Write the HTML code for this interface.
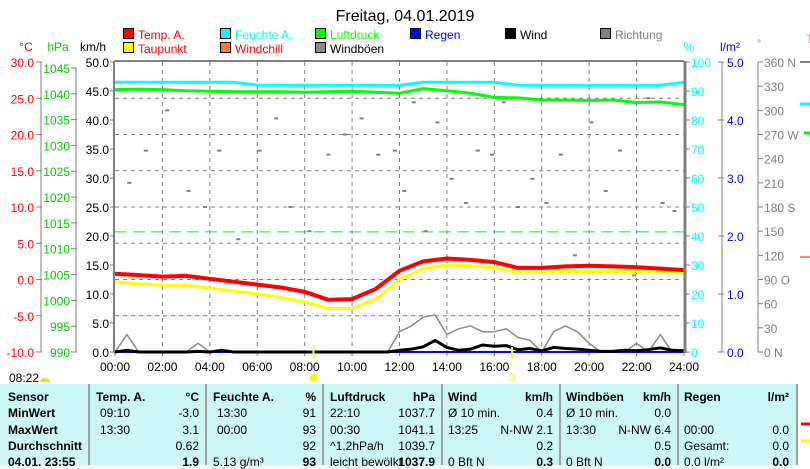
<!DOCTYPE html>
<html><head><meta charset="utf-8">
<style>
body{margin:0;background:#fff;width:810px;height:465px;overflow:hidden;font-family:"Liberation Sans",sans-serif;}
svg{position:absolute;left:0;top:0;}
#tbl{position:absolute;left:0;top:384px;width:796px;height:81px;background:#ccf7f7;font-size:12px;}
.c{position:absolute;white-space:nowrap;}
.b{font-weight:bold;}
.div{position:absolute;top:0;width:2px;height:81px;background:#a0a0a0;}
</style></head><body>
<svg id="chart" width="810" height="465"></svg>
<div id="tbl"></div>
<script>
// ---- data ----
const hours=[0,1,2,3,4,5,6,7,8,9,10,11,12,13,14,15,16,17,18,19,20,21,22,23,24];
const tempA=[0.8,0.6,0.4,0.5,0.1,-0.3,-0.7,-1.1,-1.7,-2.8,-2.7,-1.3,1.2,2.5,2.9,2.7,2.4,1.6,1.6,1.8,1.9,1.8,1.7,1.5,1.3];
const dewPt=[-0.3,-0.6,-0.8,-0.8,-1.2,-1.6,-2.0,-2.5,-3.1,-4.0,-4.0,-2.7,0.0,1.5,2.0,1.9,1.6,1.0,1.0,1.1,1.1,1.1,1.1,1.0,0.9];
const humid=[93,93,93,93,93,93,92,92,92,92,92,92,92,93,93,93,93,92,92,92,92,92,92,92,93];
const press=[1040.8,1040.9,1040.8,1040.6,1040.5,1040.4,1040.4,1040.4,1040.3,1040.4,1040.5,1040.3,1040.1,1041.0,1040.6,1040.1,1039.3,1039.2,1038.8,1038.8,1038.7,1038.8,1038.3,1038.4,1037.9];
const halfHours=[0,0.5,1,1.5,2,2.5,3,3.5,4,4.5,5,5.5,6,6.5,7,7.5,8,8.5,9,9.5,10,10.5,11,11.5,12,12.5,13,13.5,14,14.5,15,15.5,16,16.5,17,17.5,18,18.5,19,19.5,20,20.5,21,21.5,22,22.5,23,23.5,24];
const wind=[0,0.3,0,0,0,0,0,0.1,0,0.3,0,0,0,0,0,0,0,0,0,0,0,0,0,0,0.3,0.5,0.9,2.0,0.8,0.3,0.5,1.2,1.0,1.1,0.4,0.6,0.2,0.8,0.6,0.5,0.3,0.1,0.1,0.3,0.2,0.4,0.7,0.3,0.2];
const gusts=[0,3.0,0,0,0,0,0,1.5,0,0,0,0,0,0,0,0,0,0,0,0,0,0,0,0,3.5,4.5,6.0,6.4,3.0,4.0,4.5,3.5,3.5,4.0,2.5,2.0,0,3.5,4.5,3.5,1.5,0,0,0,1.5,0,3.0,0,0];
const dirT=[0.6,1.3,2.2,3.1,3.8,4.4,5.2,6.1,6.8,7.4,8.2,9.0,9.7,10.4,11.1,11.8,12.2,12.6,13.1,13.6,14.2,14.8,15.3,15.9,16.4,17.0,17.6,18.2,18.8,19.4,20.1,20.7,21.3,21.9,22.5,23.1,23.6];
const dirV=[210,250,300,200,180,250,140,250,290,180,150,245,270,290,245,250,200,310,150,285,215,185,250,245,310,180,215,185,245,120,285,200,250,95,315,185,175];
const xTicks=["00:00","02:00","04:00","06:00","08:00","10:00","12:00","14:00","16:00","18:00","20:00","22:00","24:00"];
const tTicks=[30,25,20,15,10,5,0,-5,-10];
const pTicks=[1045,1040,1035,1030,1025,1020,1015,1010,1005,1000,995,990];
const wTicks=[50,45,40,35,30,25,20,15,10,5,0];
const hTicks=[100,90,80,70,60,50,40,30,20,10,0];
const rTicks=[5,4,3,2,1,0];
const dTicks=["360 N","330","300","270 W","240","210","180 S","150","120","90  O","60","30","0   N"];
// ---- scales ----
const X0=115,X1=684,YT=62,YB=352;
const xs=h=>X0+h*(X1-X0)/24;
const yT=t=>YB-(t+10)*(YB-YT)/40;
const yP=p=>YB-(p-990)*(YB-YT)/56.15;
const yW=w=>YB-w*(YB-YT)/50;
const yH=h=>YB-h*(YB-YT)/100;
const yD=d=>YB-d*(YB-YT)/360;
const yR=r=>YB-r*(YB-YT)/5;
const svg=document.getElementById('chart');
const NS="http://www.w3.org/2000/svg";
function mk(tag,at,parent){const e=document.createElementNS(NS,tag);for(const k in at)e.setAttribute(k,at[k]);(parent||svg).appendChild(e);return e;}
function txt(x,y,s,fill,anchor,size){const e=mk('text',{x:x,y:y,fill:fill,'text-anchor':anchor||'start','font-size':size||12});e.textContent=s;return e;}
let t=txt(405,21,"Freitag, 04.01.2019","#000","middle",16);


const leg=[["Temp. A.","#f00","#f00",123,38],["Feuchte A.","#0ff","#0ff",220,38],["Luftdruck","#0f0","#0f0",315,38],["Regen","#00f","#00f",410,38],["Wind","#000","#000",505,38],["Richtung","#808080","#808080",600,38],
["Taupunkt","#ff0","#f00",123,52],["Windchill","#ff8000","#f00",220,52],["Windböen","#8c8890","#000",315,52]];
leg.forEach(l=>{const g=mk('g',{});


mk('rect',{x:l[3]+0.5,y:l[4]-9.5,width:10,height:10,fill:l[1],stroke:"#000"},g);
const e=mk('text',{x:l[3]+15,y:l[4]+1,fill:l[2],'font-size':12},g);e.textContent=l[0];});
txt(26,51,"°C","#f00","middle");txt(58,51,"hPa","#0c0","middle");txt(93,51,"km/h","#000","middle");
txt(689,51,"%","#0ff","middle");txt(730,51,"l/m²","#00f","middle");txt(759,47,"°","#808080","middle",10);txt(806,43,"T","#f88","start");
for(let h=2;h<24;h+=2){mk('line',{x1:xs(h),x2:xs(h),y1:YT,y2:YB,stroke:"#808080","stroke-dasharray":"4,4"});}
for(let k=1;k<8;k++){const y=YT+k*(YB-YT)/8;mk('line',{x1:X0,x2:X1,y1:y,y2:y,stroke:"#808080","stroke-dasharray":"4,4"});}
mk('line',{x1:X0,x2:X1,y1:yP(1013.25),y2:yP(1013.25),stroke:"#0f0","stroke-dasharray":"12,6","stroke-width":1});
mk('line',{x1:41,x2:41,y1:yT(30),y2:YB,stroke:"#808080"});
tTicks.forEach(v=>{mk('line',{x1:36,x2:42,y1:yT(v),y2:yT(v),stroke:"#808080"});txt(34,yT(v)+5,v.toFixed(1),"#f00","end");});
mk('line',{x1:76,x2:76,y1:yP(1045),y2:YB,stroke:"#808080"});
pTicks.forEach(v=>{mk('line',{x1:71,x2:77,y1:yP(v),y2:yP(v),stroke:"#808080"});txt(70,yP(v)+5,String(v),"#0c0","end");});
wTicks.forEach(v=>{mk('line',{x1:110,x2:115,y1:yW(v),y2:yW(v),stroke:"#808080"});txt(109,yW(v)+5,v.toFixed(1),"#000","end");});
hTicks.forEach(v=>{mk('line',{x1:684,x2:690,y1:yH(v),y2:yH(v),stroke:"#808080"});txt(691,yH(v)+5,String(v),"#0ff","start");});
mk('line',{x1:722,x2:722,y1:YT,y2:YB,stroke:"#808080"});
rTicks.forEach(v=>{mk('line',{x1:718,x2:724,y1:yR(v),y2:yR(v),stroke:"#808080"});txt(727,yR(v)+5,v.toFixed(1),"#00f","start");});
mk('line',{x1:758,x2:758,y1:YT,y2:YB,stroke:"#808080"});
dTicks.forEach((s,i)=>{const y=yD(360-i*30);mk('line',{x1:758,x2:763,y1:y,y2:y,stroke:"#808080"});txt(764,y+5,s,"#808080","start");});
mk('line',{x1:800,x2:810,y1:62,y2:62,stroke:"#808080","stroke-width":2});
mk('line',{x1:800,x2:810,y1:104,y2:104,stroke:"#0ff","stroke-width":3});
mk('line',{x1:804,x2:810,y1:133,y2:133,stroke:"#0f0","stroke-width":3});
mk('line',{x1:800,x2:810,y1:257,y2:257,stroke:"#f88","stroke-width":2});
xTicks.forEach((s,i)=>{mk('line',{x1:xs(i*2),x2:xs(i*2),y1:YB,y2:YB+4,stroke:"#808080"});const e=txt(xs(i*2),371,s,"#000","middle");

});
dirT.forEach((h,i)=>{const r=mk('rect',{x:xs(h)-2,y:yD(dirV[i])-1,width:4,height:2,fill:"#808080"});

});
function line(xsArr,ys,fn,col,w,name){const d=xsArr.map((h,i)=>(i?'L':'M')+xs(h).toFixed(1)+','+fn(ys[i]).toFixed(1)).join(' ');
const p=mk('path',{d:d,fill:'none',stroke:col,'stroke-width':w,'stroke-linejoin':'round'});

return p;}
line(halfHours,gusts,yW,"#8c8890",1.5,"gust-line");
mk('line',{x1:X0,x2:X1,y1:YB,y2:YB,stroke:"#00f","stroke-width":2});
line(halfHours,wind,yW,"#000",3,"wind-line");
line(hours,humid,yH,"#0ff",3,"humidity-line");
line(hours,press,yP,"#0f0",3,"pressure-line");
line(hours,dewPt,yT,"#ff0",3,"dewpoint-line");
line(hours,tempA,yT,"#f00",4,"temperature-line");
mk('line',{x1:X0-1,x2:X0-1,y1:YT-1,y2:YB+1,stroke:"#808080","stroke-width":2});
mk('line',{x1:X0-1,x2:X1,y1:YT-1,y2:YT-1,stroke:"#808080","stroke-width":2});
mk('line',{x1:X1+1,x2:X1+1,y1:YT-1,y2:YB+1,stroke:"#808080","stroke-width":3});
mk('line',{x1:xs(8.37),x2:xs(8.37),y1:347,y2:358,stroke:"#ff0","stroke-width":2});
mk('circle',{cx:xs(8.37),cy:378,r:4,fill:"#ff0"});
mk('line',{x1:xs(16.75),x2:xs(16.75),y1:347,y2:358,stroke:"#ff0","stroke-width":2});
mk('rect',{x:xs(16.75)-3,y:375,width:5,height:5,fill:"none",stroke:"#ff0"});
txt(9,382,"08:22","#000","start");
mk('path',{d:"M40,382 A5,4 0 0 1 50,382 Z",fill:"#ffd800"});
mk('line',{x1:797,x2:797,y1:384,y2:465,stroke:"#a0a0a0","stroke-width":2});
mk('line',{x1:801,x2:810,y1:424,y2:424,stroke:"#f00","stroke-width":3});
mk('line',{x1:801,x2:810,y1:441,y2:441,stroke:"#ff0","stroke-width":3});
const tb=document.getElementById('tbl');
function cell(x,y,s,cls,align){const d=document.createElement('div');d.className='c '+(cls||'');d.style.top=y+'px';
if(align==='r'){d.style.right=(796-x)+'px';}else d.style.left=x+'px';d.textContent=s;tb.appendChild(d);return d;}
[88,205,322,441,559,677].forEach(x=>{const d=document.createElement('div');d.className='div';d.style.left=x+'px';tb.appendChild(d);});
const rowsY=[6,22,39,55,71];
["Sensor","MinWert","MaxWert","Durchschnitt","04.01. 23:55"].forEach((s,i)=>cell(8,rowsY[i],s,'b'));
const cols=[
[96,199,"Temp. A.","°C",[["09:10","-3.0"],["13:30","3.1"],["","0.62"],["","1.9"]]],
[213,316,"Feuchte A.","%",[["13:30","91"],["00:00","93"],["","92"],["5.13 g/m³","93"]]],
[330,435,"Luftdruck","hPa",[["22:10","1037.7"],["00:30","1041.1"],["^1.2hPa/h","1039.7"],["leicht bewölkt","1037.9"]]],
[448,553,"Wind","km/h",[["Ø 10 min.","0.4"],["  13:25","N-NW 2.1"],["","0.2"],["  0 Bft N","0.3"]]],
[566,671,"Windböen","km/h",[["Ø 10 min.","0.0"],["  13:30","N-NW 6.4"],["","0.5"],["  0 Bft N","0.0"]]],
[684,789,"Regen","l/m²",[["",""],["  00:00","0.0"],["Gesamt:","0.0"],["0.0 l/m²","0.0"]]]];
cols.forEach(c=>{cell(c[0],rowsY[0],c[2],'b');cell(c[1],rowsY[0],c[3],'b','r');
c[4].forEach((r,i)=>{cell(c[0]+(r[0].startsWith(' ')?0:(i<2&&c[0]<330?4:0)),rowsY[i+1],r[0].trim()? (r[0].startsWith('  ')?'   '+r[0].trim():r[0]) :'');
cell(c[1],rowsY[i+1],r[1],i===3?'b':'','r');});});
</script>
</body></html>
